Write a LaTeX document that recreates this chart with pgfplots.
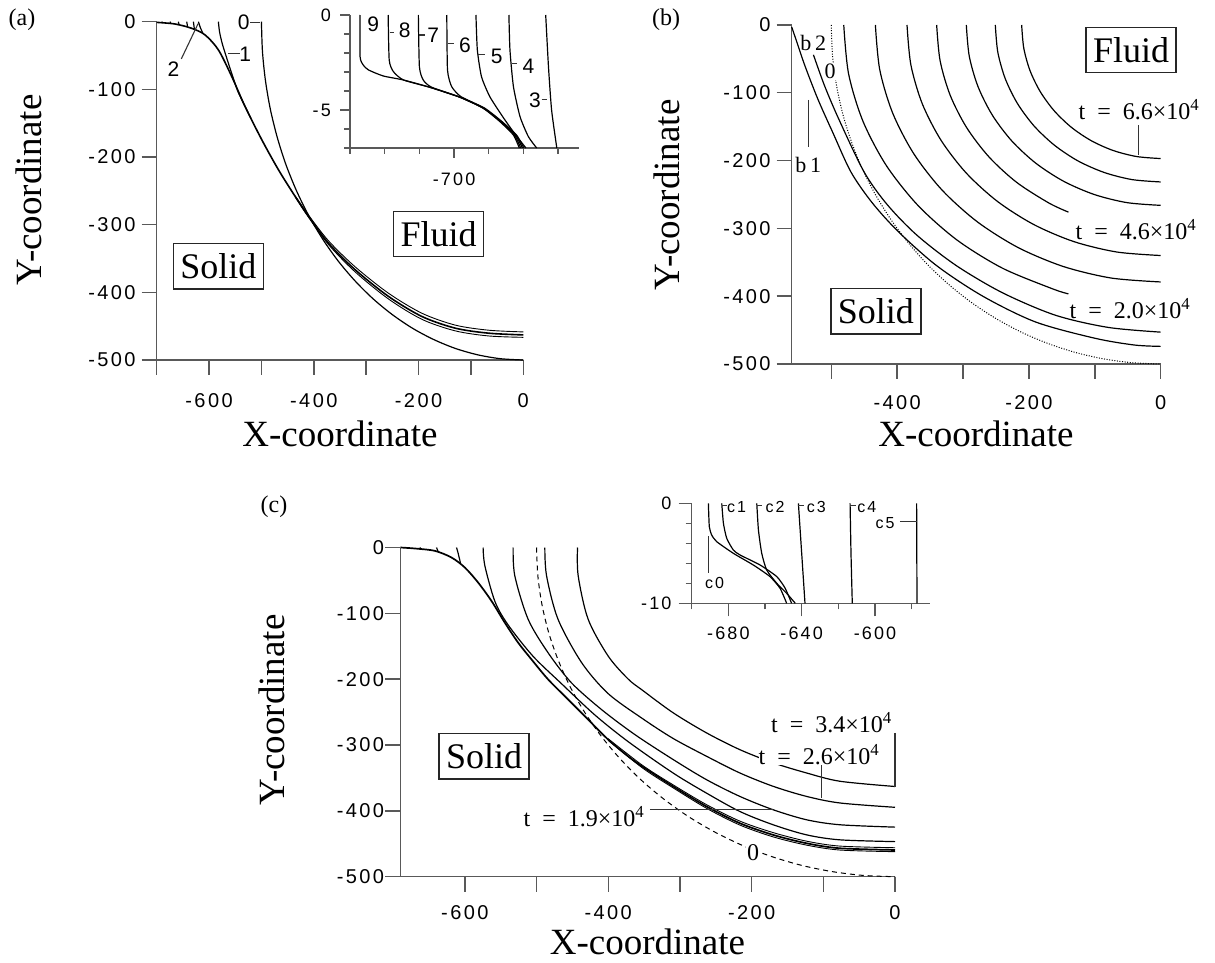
\documentclass[border=0pt]{standalone}
\usepackage{fontspec}
\setmainfont{Liberation Serif}
\newfontfamily\tsans[LetterSpace=12]{Liberation Sans}
\usepackage{pgfplots}
\pgfplotsset{compat=1.18}

\newcommand{\tickfont}{\tsans\fontsize{20}{22}\selectfont}
\newcommand{\insfont}{\tsans\fontsize{18}{20}\selectfont}
\newcommand{\labfont}{\fontsize{37}{40}\selectfont}
\newcommand{\boxfont}{\fontsize{36}{40}\selectfont}
\newcommand{\tfont}{\fontsize{24}{26}\selectfont}

\pgfplotsset{
  base/.style={
    scale only axis, anchor=south west, clip=false,
    axis x line=bottom, axis y line=left,
    axis line style={-, line width=1.4pt, black!65},
    x axis line style={-}, y axis line style={-},
    tick align=outside,
    tick style={line width=1.4pt, black!65},
    major tick length=15pt, minor tick length=15pt,
    tick label style={font=\tickfont, inner sep=0pt, black},
    cycle list={{black,solid,mark=none}},
    every axis plot/.append style={line width=1.2pt, black, mark=none},
  },
}
\tikzset{
  curlab/.style={font=\tsans\fontsize{21}{23}\selectfont, inner sep=0pt},
  clab/.style={font=\tsans\fontsize{16}{18}\selectfont, inner sep=0pt},
  slab/.style={font=\fontsize{22}{24}\selectfont, inner sep=0pt},
  leader/.style={line width=1.1pt, black!80},
  regbox/.style={draw=black!85, line width=1.5pt, fill=white, inner xsep=7pt, inner ysep=10pt, font=\boxfont},
  tlab/.style={font=\tfont, inner sep=1pt},
}

\begin{document}
\begin{tikzpicture}
\path[use as bounding box] (0pt,0pt) rectangle (1215pt,962pt);

% ================= (a) =================
\begin{axis}[base, at={(156.7pt,602pt)}, width=366.6pt, height=338.3pt,
  xmin=-700, xmax=0, ymin=-500, ymax=0,
  xtick={-600,-400,-200,0}, xticklabels={-600,-400,-200,0},
  minor xtick={-700,-500,-300,-100},
  ytick={-500,-400,-300,-200,-100,0}, yticklabels={-500,-400,-300,-200,-100,0},
  xticklabel shift=18pt, yticklabel shift=6pt]
% main bundle
\addplot[smooth, line width=1.6pt] coordinates {(-700,-1) (-665,-3.4) (-633.1,-9.8) (-607.6,-19.6) (-582.1,-41.8) (-556.6,-81.2) (-531.1,-125.6) (-499.2,-174.7) (-467.4,-219) (-435.5,-258.4) (-410,-288) (-371.8,-327.4) (-320.8,-366.8) (-257.1,-406.2) (-193.3,-435.8) (-129.6,-453) (-65.9,-460.4) (0,-462.9)};
\addplot[smooth, line width=0.9pt] coordinates {(-435.5,-257.5) (-410,-286) (-371.8,-324) (-320.8,-362.5) (-257.1,-401.5) (-193.3,-431) (-129.6,-448.5) (-65.9,-456) (0,-458.5)};
\addplot[smooth, line width=0.9pt] coordinates {(-435.5,-259) (-410,-289) (-371.8,-329.5) (-320.8,-370) (-257.1,-410) (-193.3,-440) (-129.6,-457) (-65.9,-464.5) (0,-466.5)};
% curve 0 (initial)
\addplot[smooth] coordinates {(-500,0) (-498.1,-43.6) (-492.4,-86.8) (-483,-129.4) (-469.8,-171) (-453.2,-211.3) (-433,-250) (-409.6,-286.8) (-383,-321.4) (-353.6,-353.6) (-321.4,-383) (-286.8,-409.6) (-250,-433) (-211.3,-453.2) (-171,-469.8) (-129.4,-483) (-86.8,-492.4) (-43.6,-498.1) (0,-500)};
% curve 1
\addplot[smooth] coordinates {(-582.2,0) (-580,-15) (-575,-32) (-567,-52) (-557,-76) (-545,-103) (-532,-124) (-520,-143)};
% curve 2
\addplot[smooth] coordinates {(-620.4,0) (-617,-8) (-612,-17)};
% small ticks (curves 3-9)
\addplot coordinates {(-690.4,0) (-689,-1.8)};
\addplot coordinates {(-674.6,0) (-673,-3)};
\addplot coordinates {(-658.7,0) (-657,-5)};
\addplot coordinates {(-642.6,0) (-641,-8)};
\addplot coordinates {(-630,0) (-628,-11)};
% labels
\node[curlab] at (axis cs:-534,-1) {0};
\draw[leader] (axis cs:-522,-1) -- (axis cs:-502,-1);
\node[curlab] at (axis cs:-531,-47.6) {1};
\draw[leader] (axis cs:-563,-47.6) -- (axis cs:-541,-47.6);
\node[curlab] at (axis cs:-668,-70) {2};
\draw[leader] (axis cs:-653,-55) -- (axis cs:-621,-3);
\node[regbox] at (axis cs:-582.2,-361.3) {Solid};
\node[regbox] at (axis cs:-161.6,-313.9) {Fluid};
\end{axis}

% ----- inset (a) -----
\begin{axis}[base, at={(350pt,814pt)}, width=229pt, height=133pt,
  xmin=-730, xmax=-664, ymin=-7, ymax=0,
  xtick={-700}, xticklabels={-700}, minor xtick={-730,-720,-710,-690,-680,-670},
  ytick={-5,0}, yticklabels={-5,0}, minor ytick={-7,-6,-4,-3,-2,-1},
  major tick length=10pt, minor tick length=6pt,
  tick label style={font=\insfont},
  xticklabel shift=15pt, yticklabel shift=9pt,
  every axis plot/.append style={smooth, tension=0.35}]
\addplot coordinates {(-727.1,0) (-727.1,-2.19) (-726.2,-2.63) (-724.7,-2.89) (-720.4,-3.21) (-714.6,-3.42) (-706.9,-3.81) (-698.3,-4.33) (-691.6,-4.91) (-686.8,-5.61) (-682.9,-6.32) (-681.2,-7)};
\addplot coordinates {(-719,0) (-718.7,-2.37) (-717.5,-2.98) (-714.6,-3.42) (-706.9,-3.81) (-698.3,-4.33) (-691.5,-4.91) (-686.6,-5.61) (-682.6,-6.32) (-680.8,-7)};
\addplot coordinates {(-710.3,0) (-710,-2.72) (-708.9,-3.42) (-706.5,-3.8) (-698.2,-4.33) (-691.4,-4.91) (-686.4,-5.61) (-682.3,-6.32) (-680.3,-7)};
\addplot coordinates {(-702.1,0) (-701.9,-2.89) (-700.7,-3.77) (-698,-4.3) (-691.2,-4.9) (-686.2,-5.61) (-682,-6.32) (-679.9,-7)};
\addplot coordinates {(-693.7,0) (-693.3,-1.84) (-692.1,-3.25) (-689.7,-4.3) (-686,-5.35) (-682.6,-6.23) (-679.3,-7)};
\addplot coordinates {(-684.2,0) (-683.9,-1.84) (-682.9,-3.77) (-681,-5.35) (-678.6,-6.4) (-676.2,-7)};
\addplot coordinates {(-673.6,0) (-672.8,-2.72) (-671.9,-5) (-670.4,-7)};
\node[curlab] at (axis cs:-723.3,-0.5) {9};
\node[curlab] at (axis cs:-714.2,-0.8) {8};
\node[curlab] at (axis cs:-706,-1.05) {7};
\node[curlab] at (axis cs:-696.9,-1.58) {6};
\node[curlab] at (axis cs:-687.7,-2.19) {5};
\node[curlab] at (axis cs:-678.6,-2.72) {4};
\node[curlab] at (axis cs:-676.7,-4.47) {3};
\draw[leader] (axis cs:-718.6,-0.9) -- (axis cs:-717.2,-0.9);
\draw[leader] (axis cs:-710,-1.05) -- (axis cs:-708.4,-1.05);
\draw[leader] (axis cs:-701.7,-1.49) -- (axis cs:-700.1,-1.49);
\draw[leader] (axis cs:-693,-2.1) -- (axis cs:-691.1,-2.1);
\draw[leader] (axis cs:-683.4,-2.54) -- (axis cs:-681.9,-2.54);
\draw[leader] (axis cs:-674.8,-4.47) -- (axis cs:-673.2,-4.47);
\end{axis}

% ================= (b) =================
\begin{axis}[base, at={(791.7pt,598pt)}, width=369pt, height=339pt,
  xmin=-560, xmax=0, ymin=-500, ymax=0,
  xtick={-400,-200,0}, xticklabels={-400,-200,0},
  minor xtick={-500,-300,-100},
  ytick={-500,-400,-300,-200,-100,0}, yticklabels={-500,-400,-300,-200,-100,0},
  xticklabel shift=16pt, yticklabel shift=6pt,
  every axis plot/.append style={smooth}]
% dotted initial circle
\addplot[line width=1pt, dash pattern=on 1pt off 1.6pt] coordinates {(-500,0) (-498.1,-43.6) (-492.4,-86.8) (-483,-129.4) (-469.8,-171) (-453.2,-211.3) (-433,-250) (-409.6,-286.8) (-383,-321.4) (-353.6,-353.6) (-321.4,-383) (-286.8,-409.6) (-250,-433) (-211.3,-453.2) (-171,-469.8) (-129.4,-483) (-86.8,-492.4) (-43.6,-498.1) (0,-500)};
% b1
\addplot coordinates {(-560,-3) (-554,-20) (-540,-60) (-520,-110) (-497,-160) (-470,-217) (-438,-262) (-398,-305) (-340,-355) (-270,-400) (-190,-438) (-100,-462) (-40,-472) (0,-474)};
% b2
\addplot coordinates {(-527,-44) (-510,-90) (-488,-140) (-450,-217) (-415,-265) (-370,-310) (-310,-355) (-240,-395) (-160,-428) (-80,-446) (0,-453)};
% fronts
\addplot coordinates {(-481,0) (-473.7,-71.9) (-452,-141.6) (-416.6,-207) (-368.4,-266.1) (-309.2,-317.1) (-240.5,-358.5) (-164.5,-389) (-140,-396.6)};
\addplot coordinates {(-433,0) (-426.4,-65.8) (-406.9,-129.6) (-375,-189.5) (-331.7,-243.6) (-278.3,-290.3) (-216.5,-328.2) (-148.1,-356.1) (-75.2,-373.2) (0,-379)};
\addplot coordinates {(-385,0) (-379.1,-59) (-361.8,-116.3) (-333.4,-170) (-294.9,-218.6) (-247.5,-260.4) (-192.5,-294.4) (-131.7,-319.5) (-66.8,-334.8) (0,-340)};
\addplot coordinates {(-340,0) (-334.8,-52.6) (-319.5,-103.6) (-294.4,-151.5) (-260.4,-194.8) (-218.6,-232.1) (-170,-262.4) (-140,-276)};
\addplot coordinates {(-295,0) (-290.5,-46.2) (-277.2,-91) (-255.5,-133) (-226,-171) (-189.6,-203.8) (-147.5,-230.4) (-100.9,-250) (-51.2,-262) (0,-266)};
\addplot coordinates {(-251,0) (-247.2,-40.2) (-235.9,-79.2) (-217.4,-115.8) (-192.3,-148.8) (-161.3,-177.3) (-125.5,-200.5) (-85.8,-217.5) (-43.6,-228) (0,-231.5)};
\addplot coordinates {(-211,0) (-207.8,-34.2) (-198.3,-67.4) (-182.7,-98.5) (-161.6,-126.6) (-135.6,-150.9) (-105.5,-170.6) (-72.2,-185.1) (-36.6,-194) (0,-197)};
\node[slab, fill=white, inner sep=1pt] at (axis cs:-501.8,-68.9) {0};
\node[slab] at (axis cs:-527.2,-27) {b\,2};
\node[slab] at (axis cs:-534.8,-206.5) {b\,1};
\draw[leader] (axis cs:-534.8,-110.6) -- (axis cs:-534.8,-179.5);
\draw[leader] (axis cs:-34,-147.5) -- (axis cs:-34,-191.7);
\node[tlab] at (axis cs:-33,-125.4) {t ~=~ 6.6×10\textsuperscript{4}};
\node[tlab] at (axis cs:-37.5,-302) {t ~=~ 4.6×10\textsuperscript{4}};
\node[tlab] at (axis cs:-46.6,-418) {t ~=~ 2.0×10\textsuperscript{4}};
\node[regbox] at (axis cs:-432.3,-422.3) {Solid};
\node[regbox] at (axis cs:-44.8,-36.9) {Fluid};
\end{axis}

% ================= (c) =================
\begin{axis}[base, at={(400.3pt,85.3pt)}, width=494.7pt, height=329.2pt,
  xmin=-690, xmax=0, ymin=-500, ymax=0,
  xtick={-600,-400,-200,0}, xticklabels={-600,-400,-200,0},
  minor xtick={-500,-300,-100},
  ytick={-500,-400,-300,-200,-100,0}, yticklabels={-500,-400,-300,-200,-100,0},
  xticklabel shift=14pt, yticklabel shift=1pt,
  every axis plot/.append style={smooth}]
% dashed initial circle
\addplot[line width=1pt, dash pattern=on 5pt off 4pt] coordinates {(-500,0) (-498.1,-43.6) (-492.4,-86.8) (-483,-129.4) (-469.8,-171) (-453.2,-211.3) (-433,-250) (-409.6,-286.8) (-383,-321.4) (-353.6,-353.6) (-321.4,-383) (-286.8,-409.6) (-250,-433) (-211.3,-453.2) (-171,-469.8) (-129.4,-483) (-86.8,-492.4) (-43.6,-498.1) (0,-500)};
% bundle
\addplot[line width=1.7pt] coordinates {(-690,0) (-669.7,-1.5) (-641.8,-5.1) (-618.6,-15.2) (-600,-30.4) (-581.4,-53.3) (-562.8,-81.2) (-544.2,-114.2) (-525.6,-144.6) (-507,-170) (-483.7,-200.5) (-455.8,-230.9) (-427.9,-261.4) (-400,-291.8) (-372.1,-317.2) (-352,-333) (-309.5,-362.8) (-263,-393.3) (-216.5,-418.7) (-170,-436.5) (-123.5,-449.2) (-77,-456.8) (0,-459.4)};
\addplot[line width=0.9pt] coordinates {(-400,-290.5) (-352,-331) (-309.5,-360.5) (-263,-390.5) (-216.5,-415.5) (-170,-433) (-123.5,-446) (-77,-453.5) (0,-456)};
\addplot[line width=0.9pt] coordinates {(-400,-293) (-352,-335) (-309.5,-365) (-263,-396) (-216.5,-421.5) (-170,-439.5) (-123.5,-452) (-77,-459.5) (0,-462)};
% other fronts
\addplot coordinates {(-574.5,0) (-572,-28) (-558,-82) (-540,-117) (-505,-165) (-465,-207) (-419,-254) (-372,-295) (-309.5,-342.5) (-263,-373) (-216.5,-400.9) (-170,-421.1) (-123.5,-436.4) (-77,-444) (0,-446.7)};
\addplot coordinates {(-532.6,0) (-530.3,-43) (-511.7,-109) (-483.8,-160) (-451.3,-205.5) (-409.5,-246) (-363,-284) (-309.5,-322) (-263,-352.6) (-216.5,-378) (-170,-398.3) (-123.5,-413.5) (-77,-421.1) (0,-424.7)};
\addplot coordinates {(-488.4,0) (-486,-43) (-470,-109) (-437,-175) (-400,-222) (-352,-260) (-309.5,-290) (-263,-317) (-216.5,-342.4) (-170,-362.7) (-123.5,-378) (-77,-388) (0,-394.6)};
\addplot coordinates {(-442.8,0) (-441.9,-43) (-428,-109) (-400,-165) (-372,-200) (-352,-217) (-309.5,-251) (-263,-281.5) (-216.5,-307) (-170,-327) (-123.5,-342.4) (-77,-355) (0,-363)};
% small ticks
\addplot[sharp plot] coordinates {(-681.3,0) (-679.5,-1.2)};
\addplot[sharp plot] coordinates {(-662.8,0) (-661,-2.6)};
\addplot[sharp plot] coordinates {(-639.5,0) (-637.5,-5.5)};
\addplot coordinates {(-611.6,0) (-609.5,-8) (-606,-24)};
% labels
\draw[leader] (axis cs:-342,-398.3) -- (axis cs:-170,-398.3);
\draw[leader] (axis cs:-102.5,-327) -- (axis cs:-102.5,-380.5);
\draw[leader] (axis cs:0,-281.6) -- (axis cs:0,-363);
\node[tlab] at (axis cs:-433.8,-408.5) {t ~=~ 1.9×10\textsuperscript{4}};
\node[tlab, fill=white, inner sep=0pt] at (axis cs:-106,-314.6) {t ~=~ 2.6×10\textsuperscript{4}};
\node[tlab] at (axis cs:-88.5,-266.4) {t ~=~ 3.4×10\textsuperscript{4}};
\node[font=\fontsize{24}{26}\selectfont, fill=white, inner sep=1pt] at (axis cs:-197.9,-464.2) {0};
\node[regbox] at (axis cs:-573.2,-317.2) {Solid};
\end{axis}

% ----- inset (c) -----
\begin{axis}[base, at={(691.7pt,358.7pt)}, width=238.3pt, height=100pt,
  xmin=-700, xmax=-570, ymin=-10, ymax=0,
  xtick={-680,-640,-600}, xticklabels={-680,-640,-600}, minor xtick={-700,-660,-620,-580},
  ytick={-10,0}, yticklabels={-10,0}, minor ytick={-8,-6,-4,-2},
  major tick length=13pt, minor tick length=6pt,
  tick label style={font=\insfont},
  xticklabel shift=10pt, yticklabel shift=7pt,
  every axis plot/.append style={smooth, tension=0.35}]
\addplot coordinates {(-690.9,0) (-690.4,-2.33) (-689.1,-3.17) (-686.4,-3.83) (-677.3,-5) (-666.4,-6.17) (-657.3,-7.33) (-651.8,-8.5) (-648.2,-10)};
\addplot coordinates {(-683.6,0) (-682.7,-2) (-680.9,-3.5) (-677.3,-4.67) (-673.6,-5.17) (-662.7,-6.17) (-653.6,-7.33) (-649,-8.5) (-645.5,-10)};
\addplot coordinates {(-664.5,0) (-663.6,-2.67) (-661.8,-5) (-659.1,-6.67) (-653.6,-8) (-648.2,-9) (-643.5,-10)};
\addplot coordinates {(-641.8,0) (-640,-5) (-638.2,-10)};
\addplot coordinates {(-613.6,0) (-613.1,-5) (-612.4,-10)};
\addplot coordinates {(-577.3,0) (-577.2,-5) (-577.1,-10)};
\draw[leader] (axis cs:-690.9,-3.3) -- (axis cs:-690.9,-7);
\node[clab] at (axis cs:-687.5,-8) {c0};
\node[clab] at (axis cs:-675.5,-0.35) {c1};
\draw[leader] (axis cs:-683.6,-0.2) -- (axis cs:-680.5,-0.2);
\node[clab] at (axis cs:-654.5,-0.35) {c2};
\draw[leader] (axis cs:-664.5,-0.2) -- (axis cs:-661.5,-0.2);
\node[clab] at (axis cs:-632,-0.35) {c3};
\draw[leader] (axis cs:-641.8,-0.2) -- (axis cs:-638.8,-0.2);
\node[clab] at (axis cs:-604.5,-0.35) {c4};
\draw[leader] (axis cs:-613.6,-0.2) -- (axis cs:-610.6,-0.2);
\node[clab] at (axis cs:-594.5,-2) {c5};
\draw[leader] (axis cs:-586.4,-1.83) -- (axis cs:-577.3,-1.83);
\end{axis}

% ---- panel labels and axis titles ----
\node[font=\fontsize{24}{26}\selectfont] at (22pt,942pt) {(a)};
\node[font=\fontsize{24}{26}\selectfont] at (666pt,942pt) {(b)};
\node[font=\fontsize{24}{26}\selectfont] at (274pt,455pt) {(c)};
\node[font=\labfont, rotate=90] at (29pt,772pt) {Y-coordinate};
\node[font=\labfont, rotate=90] at (666.7pt,767pt) {Y-coordinate};
\node[font=\labfont, rotate=90] at (272pt,252pt) {Y-coordinate};
\node[font=\labfont] at (340pt,528pt) {X-coordinate};
\node[font=\labfont] at (976pt,528pt) {X-coordinate};
\node[font=\labfont] at (647.5pt,20pt) {X-coordinate};
\end{tikzpicture}
\end{document}
